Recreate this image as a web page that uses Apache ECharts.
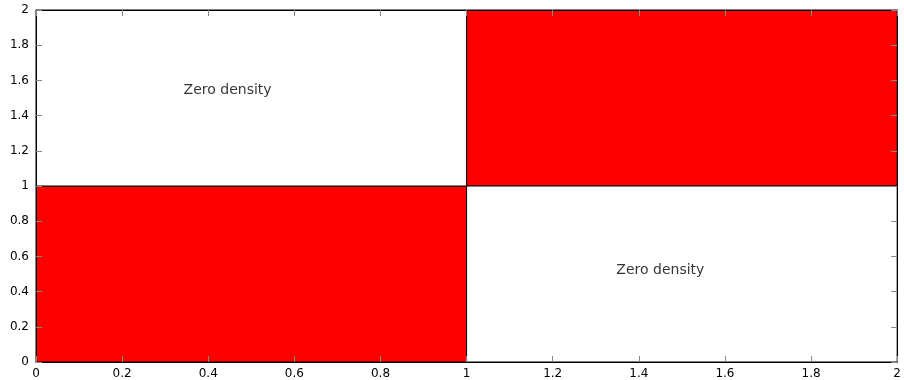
<!DOCTYPE html>
<html><head><meta charset="utf-8">
<script src="https://cdn.jsdelivr.net/npm/echarts@6/dist/echarts.min.js"></script>
<style>html,body{margin:0;padding:0;background:#fff}#c{width:904px;height:380px}</style>
</head><body><div id="c"></div>
<script>
// cells: [x0, x1, y0, y1, colour-kind]
const cellX0 = [0, 1, 0, 1];
const cellX1 = [1, 2, 1, 2];
const cellY0 = [0, 1, 1, 0];
const cellY1 = [1, 2, 2, 1];
const cellFilled = [1, 1, 0, 0];
const textX = [0.445, 1.45];
const textY = [1.545, 0.52];
const textLabels = ['Zero density', 'Zero density'];
const axisMin = 0, axisMax = 2, axisStep = 0.2;

const cells = cellX0.map((v, i) => [v, cellX1[i], cellY0[i], cellY1[i], cellFilled[i]]);
const texts = textX.map((v, i) => [v, textY[i], textLabels[i]]);

const font = 'DejaVu Sans, Helvetica, Arial, sans-serif';
const fmt = v => (Math.round(v * 10) / 10).toString();
function mkAxis(pos, show) {
  return {
    type: 'value', min: axisMin, max: axisMax, interval: axisStep, position: pos, z: 10,
    axisLine: {show: true, onZero: false, lineStyle: {color: '#000', width: 1}},
    axisTick: {show: true, inside: true, length: 6, lineStyle: {color: '#888'}},
    axisLabel: {show: show, color: '#000', fontSize: 12, fontFamily: font, formatter: fmt,
      margin: pos === 'left' ? 7 : 6},
    splitLine: {show: false}
  };
}
const chart = echarts.init(document.getElementById('c'));
chart.setOption({
  animation: false,
  grid: {left: 36, right: 6, top: 10, bottom: 18, containLabel: false},
  xAxis: [mkAxis('bottom', true), mkAxis('top', false)],
  yAxis: [mkAxis('left', true), mkAxis('right', false)],
  series: [
    {
      type: 'custom', data: cells,
      encode: {x: [0, 1], y: [2, 3]},
      renderItem: function (params, api) {
        const p0 = api.coord([api.value(0), api.value(3)]);
        const p1 = api.coord([api.value(1), api.value(2)]);
        return {
          type: 'rect',
          shape: {x: p0[0], y: p0[1], width: p1[0] - p0[0], height: p1[1] - p0[1]},
          style: {fill: api.value(4) ? '#ff0000' : '#ffffff', stroke: '#000', lineWidth: 1}
        };
      }
    },
    {
      type: 'scatter', data: texts, symbolSize: 0, z: 5,
      label: {show: true, position: 'inside', formatter: p => p.data[2],
        color: '#000', fontSize: 14, fontFamily: 'DejaVu Sans, sans-serif'}
    }
  ]
});
</script></body></html>
